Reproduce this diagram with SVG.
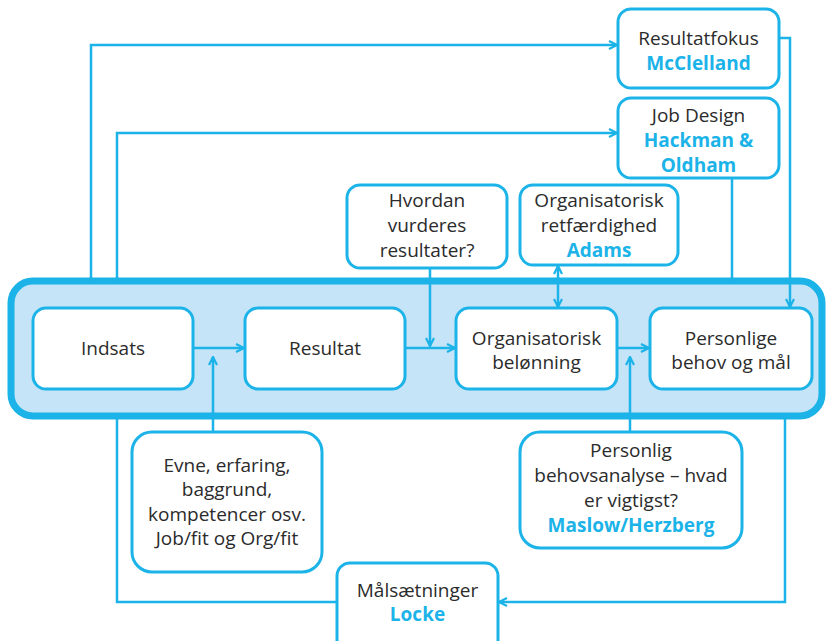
<svg xmlns="http://www.w3.org/2000/svg" width="826" height="641" viewBox="0 0 826 641">
  <style>
    .box { fill: #ffffff; stroke: #1bb3e8; stroke-width: 3; }
    .band { fill: #c6e4f7; stroke: #1bb3e8; stroke-width: 7; }
    .wire { fill: none; stroke: #1bb3e8; stroke-width: 2.5; }
    text { font-family: "Open Sans", "Noto Sans", "Liberation Sans", sans-serif; font-size: 19px; fill: #2b2b2b; text-anchor: middle; }
    .name { font-weight: 700; fill: #1bb3e8; }
  </style>
  <defs>
    <marker id="arrow" viewBox="0 0 10 10" refX="9" refY="5" markerWidth="10" markerHeight="10" markerUnits="userSpaceOnUse" orient="auto-start-reverse">
      <path d="M1,1 L9,5 L1,9" fill="none" stroke="#1bb3e8" stroke-width="2.2"/>
    </marker>
  </defs>

  <!-- background band holding the core chain -->
  <rect class="band" x="11" y="281" width="811" height="135" rx="22"/>

  <!-- connectors -->
  <g id="connectors">
    <path class="wire" d="M91,281 V45 H617" marker-end="url(#arrow)"/>
    <path class="wire" d="M117,281 V133 H617" marker-end="url(#arrow)"/>
    <path class="wire" d="M780,38 H790 V307" marker-end="url(#arrow)"/>
    <path class="wire" d="M732,178 V281"/>
    <path class="wire" d="M430,268 V346" marker-end="url(#arrow)"/>
    <path class="wire" d="M558,266 V307" marker-start="url(#arrow)" marker-end="url(#arrow)"/>
    <path class="wire" d="M193,348 H244" marker-end="url(#arrow)"/>
    <path class="wire" d="M405,348 H455" marker-end="url(#arrow)"/>
    <path class="wire" d="M617,348 H649" marker-end="url(#arrow)"/>
    <path class="wire" d="M213,432 V357" marker-end="url(#arrow)"/>
    <path class="wire" d="M630,432 V357" marker-end="url(#arrow)"/>
    <path class="wire" d="M337,602 H117 V416"/>
    <path class="wire" d="M785,416 V602 H499" marker-end="url(#arrow)"/>
  </g>

  <g id="indsats">
    <rect class="box" x="33" y="308" width="160" height="81" rx="13"/>
    <text x="113" y="355">Indsats</text>
  </g>
  <g id="resultat">
    <rect class="box" x="245" y="308" width="160" height="81" rx="13"/>
    <text x="325" y="355">Resultat</text>
  </g>
  <g id="beloenning">
    <rect class="box" x="456" y="308" width="161" height="81" rx="13"/>
    <text x="536.5" y="345">Organisatorisk</text>
    <text x="536.5" y="369">belønning</text>
  </g>
  <g id="behov">
    <rect class="box" x="650" y="308" width="162" height="81" rx="13"/>
    <text x="731" y="345">Personlige</text>
    <text x="731" y="369">behov og mål</text>
  </g>
  <g id="resultatfokus">
    <rect class="box" x="618" y="9" width="161" height="79" rx="13"/>
    <text x="698.5" y="45">Resultatfokus</text>
    <text class="name" x="698.5" y="70">McClelland</text>
  </g>
  <g id="jobdesign">
    <rect class="box" x="618" y="98" width="161" height="80" rx="13"/>
    <text x="698.5" y="122">Job Design</text>
    <text class="name" x="698.5" y="147">Hackman &amp;</text>
    <text class="name" x="698.5" y="172">Oldham</text>
  </g>
  <g id="vurdering">
    <rect class="box" x="347" y="185" width="160" height="83" rx="13"/>
    <text x="427" y="207">Hvordan</text>
    <text x="427" y="232">vurderes</text>
    <text x="427" y="257">resultater?</text>
  </g>
  <g id="retfaerdighed">
    <rect class="box" x="520" y="185" width="158" height="80" rx="13"/>
    <text x="599" y="207">Organisatorisk</text>
    <text x="599" y="232">retfærdighed</text>
    <text class="name" x="599" y="257">Adams</text>
  </g>
  <g id="evne">
    <rect class="box" x="132" y="432" width="190" height="140" rx="20"/>
    <text x="227" y="472">Evne, erfaring,</text>
    <text x="227" y="496">baggrund,</text>
    <text x="227" y="521">kompetencer osv.</text>
    <text x="227" y="545">Job/fit og Org/fit</text>
  </g>
  <g id="behovsanalyse">
    <rect class="box" x="520" y="432" width="222" height="116" rx="20"/>
    <text x="631" y="457">Personlig</text>
    <text x="631" y="482">behovsanalyse – hvad</text>
    <text x="631" y="507">er vigtigst?</text>
    <text class="name" x="631" y="532">Maslow/Herzberg</text>
  </g>
  <g id="maalsaetninger">
    <rect class="box" x="337" y="563" width="161" height="90" rx="13"/>
    <text x="417.5" y="597">Målsætninger</text>
    <text class="name" x="417.5" y="621">Locke</text>
  </g>
</svg>
